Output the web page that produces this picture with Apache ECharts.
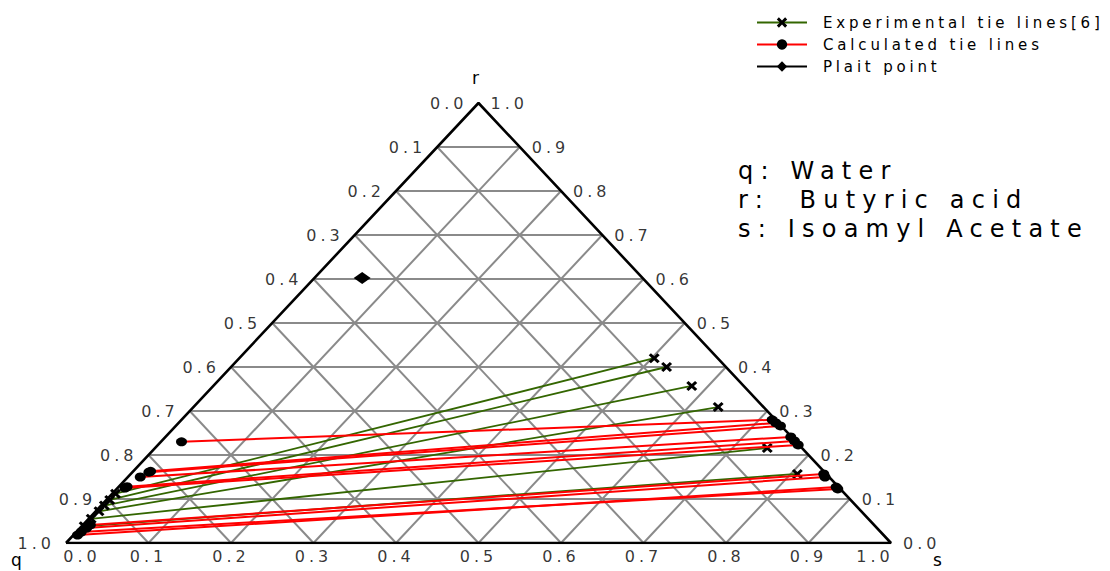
<!DOCTYPE html>
<html><head><meta charset="utf-8">
<script src="https://cdn.jsdelivr.net/npm/echarts@6/dist/echarts.min.js"></script>
<style>
html,body{margin:0;padding:0;background:#fff;}
#chart{width:1110px;height:571px;}
#chart text{letter-spacing:0.25em;}
#chart text[style*="15px"]{letter-spacing:0.255em;}
#chart text[style*="24px"]{letter-spacing:0.30em;}
</style></head><body><div id="chart"></div>
<script>
// ---- ternary grid ticks & labels ----
const gridTicks = [0.1, 0.2, 0.3, 0.4, 0.5, 0.6, 0.7, 0.8, 0.9];
const edgeValues = [0, 0.1, 0.2, 0.3, 0.4, 0.5, 0.6, 0.7, 0.8, 0.9, 1.0];
const edgeLabels = ['0.0','0.1','0.2','0.3','0.4','0.5','0.6','0.7','0.8','0.9','1.0'];

// ---- Experimental tie lines [6] (mass fractions s = isoamyl acetate, r = butyric acid) ----
const expRaffS = [0.004, 0.004, 0.004, 0.004, 0.003, 0.003];
const expRaffR = [0.112, 0.098, 0.085, 0.072, 0.055, 0.038];
const expExtS  = [0.503, 0.528, 0.580, 0.636, 0.742, 0.808];
const expExtR  = [0.420, 0.400, 0.357, 0.309, 0.216, 0.157];

// ---- Calculated tie lines ----
const calRaffS = [0.025, 0.021, 0.020, 0.015, 0.010, 0.009, 0.009, 0.008, 0.006, 0.005];
const calRaffR = [0.230, 0.163, 0.161, 0.150, 0.128, 0.125, 0.041, 0.034, 0.025, 0.018];
const calExtS  = [0.716, 0.724, 0.733, 0.758, 0.767, 0.776, 0.840, 0.845, 0.874, 0.870];
const calExtR  = [0.280, 0.273, 0.266, 0.241, 0.232, 0.223, 0.157, 0.150, 0.123, 0.127];

// ---- Plait point ----
const plaitS = [0.058];
const plaitR = [0.602];

const components = ['q: Water', 'r:  Butyric acid', 's: Isoamyl Acetate'];
const legendNames = ['Experimental tie lines[6]', 'Calculated tie lines', 'Plait point'];

// ternary (s, r) -> cartesian plotting coordinates
function tp(s, r) { return [s + r / 2, r]; }

const FONT = 'DejaVu Sans';
const GREEN = '#336600', RED = '#ff0000';
const crossPath = 'path://M2,0 L5,3 L8,0 L10,2 L7,5 L10,8 L8,10 L5,7 L2,10 L0,8 L3,5 L0,2 Z';

const series = [];

// grid lines
const gridData = [];
gridTicks.forEach(k => {
  gridData.push({coords: [tp(0, k), tp(1 - k, k)]});      // r = k
  gridData.push({coords: [tp(k, 0), tp(k, 1 - k)]});      // s = k
  gridData.push({coords: [tp(1 - k, 0), tp(0, 1 - k)]});  // q = k
});
series.push({
  type: 'lines', coordinateSystem: 'cartesian2d', silent: true, z: 1,
  lineStyle: {color: '#8a8a8a', width: 2, opacity: 1},
  data: gridData
});

// triangle border
series.push({
  type: 'line', silent: true, z: 3, symbol: 'none',
  lineStyle: {color: '#000', width: 2.6},
  data: [tp(0, 0), tp(1, 0), tp(0, 1), tp(0, 0)]
});

// experimental tie lines
expRaffS.forEach((_, i) => {
  series.push({
    type: 'line', name: legendNames[0], z: 4,
    symbol: crossPath, symbolSize: [11, 10], showAllSymbol: true,
    lineStyle: {color: GREEN, width: 1.8}, itemStyle: {color: '#000'},
    data: [tp(expRaffS[i], expRaffR[i]), tp(expExtS[i], expExtR[i])]
  });
});
// calculated tie lines
calRaffS.forEach((_, i) => {
  series.push({
    type: 'line', name: legendNames[1], z: 5,
    symbol: 'circle', symbolSize: [11, 9], showAllSymbol: true,
    lineStyle: {color: RED, width: 2}, itemStyle: {color: '#000'},
    data: [tp(calRaffS[i], calRaffR[i]), tp(calExtS[i], calExtR[i])]
  });
});
// plait point
series.push({
  type: 'line', name: legendNames[2], z: 6,
  symbol: 'diamond', symbolSize: [17, 12],
  lineStyle: {color: '#000', width: 2}, itemStyle: {color: '#000'},
  data: plaitS.map((s, i) => tp(s, plaitR[i]))
});

// edge tick labels
const lblStyle = {show: true, fontFamily: FONT, fontSize: 16, color: '#000'};
series.push({ // left edge: q values
  type: 'scatter', symbolSize: 0, silent: true, z: 7,
  label: Object.assign({}, lblStyle, {position: 'left', distance: 11,
    formatter: p => edgeLabels[p.dataIndex]}),
  data: edgeValues.map(v => tp(0, 1 - v))
});
series.push({ // right edge: r values
  type: 'scatter', symbolSize: 0, silent: true, z: 7,
  label: Object.assign({}, lblStyle, {position: 'right', distance: 12,
    formatter: p => edgeLabels[p.dataIndex]}),
  data: edgeValues.map(v => tp(1 - v, v))
});
series.push({ // bottom edge: s values
  type: 'scatter', symbolSize: 0, silent: true, z: 7,
  label: Object.assign({}, lblStyle, {position: 'bottom', distance: 5,
    formatter: p => edgeLabels[p.dataIndex]}),
  data: edgeValues.map((v, i) => {
    const item = {value: tp(v, 0)};
    if (i === 0) item.label = {offset: [16, 0]};
    if (i === edgeValues.length - 1) item.label = {offset: [-16, 0]};
    return item;
  })
});

const chart = echarts.init(document.getElementById('chart'), null, {renderer: 'svg'});
chart.setOption({
  animation: false,
  backgroundColor: '#fff',
  grid: {left: 66, right: 219, top: 103, bottom: 28},
  xAxis: {type: 'value', min: 0, max: 1, show: false},
  yAxis: {type: 'value', min: 0, max: 1, show: false},
  legend: {
    data: legendNames, orient: 'vertical', left: 751, top: 10,
    itemWidth: 50, itemHeight: 13, itemGap: 7,
    textStyle: {fontFamily: FONT, fontSize: 15, color: '#000', padding: [0, 0, 0, 11]}
  },
  graphic: [
    {type: 'text', left: 472, top: 69, style: {text: 'r', font: '17px "DejaVu Sans"', fill: '#000'}},
    {type: 'text', left: 11, top: 551, style: {text: 'q', font: '17px "DejaVu Sans"', fill: '#000'}},
    {type: 'text', left: 933, top: 551, style: {text: 's', font: '17px "DejaVu Sans"', fill: '#000'}},
    {type: 'text', left: 738, top: 159, style: {text: components[0], font: '24px "DejaVu Sans"', fill: '#000'}},
    {type: 'text', left: 738, top: 188, style: {text: components[1], font: '24px "DejaVu Sans"', fill: '#000'}},
    {type: 'text', left: 738, top: 217, style: {text: components[2], font: '24px "DejaVu Sans"', fill: '#000'}}
  ],
  series: series
});
</script></body></html>
